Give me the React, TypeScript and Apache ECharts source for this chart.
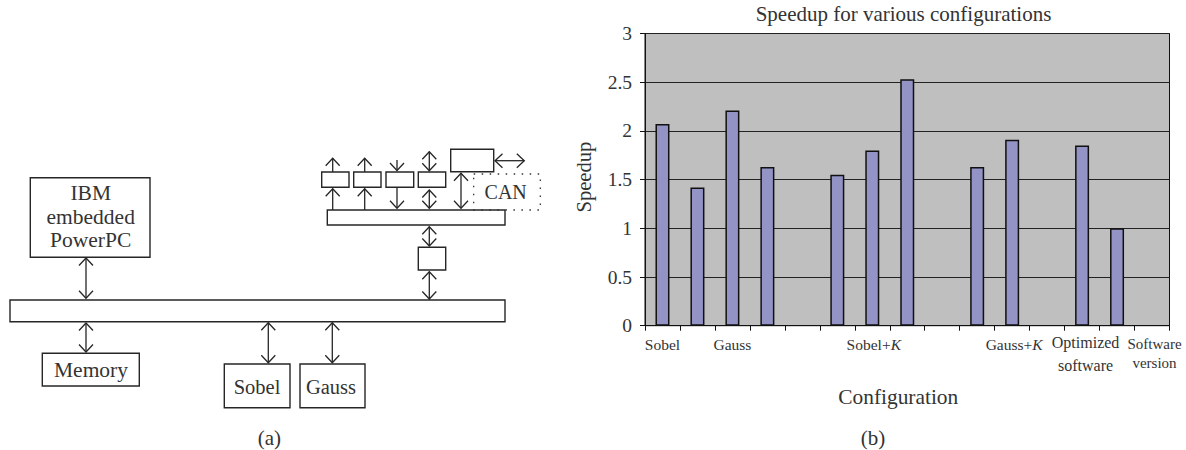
import React, { useEffect, useRef } from "react";
import * as echarts from "echarts";

const categories = ["Sobel", "", "Gauss", "", "", "", "Sobel+K", "", "", "", "Gauss+K", "", "Optimized\nsoftware", "", "Software\nversion"];
const speedup: (number | null)[] = [2.07, 1.42, 2.21, 1.63, null, 1.55, 1.8, 2.53, null, 1.63, 1.91, null, 1.85, 1.0, null];
const yTicks = { min: 0, max: 3, interval: 0.5 };

const FONT = "'Liberation Serif', serif";
const INK = "#262626";
const TEXT = "#333";

// Block diagram (a): [x, y, w, h]
const solidBoxes = [
  [30.3, 177.7, 119.7, 79.6], [10, 300, 495, 21.7], [42.3, 353.3, 97, 32.7], [224.3, 364, 65.7, 43.7], [300, 364, 65, 43.7],
  [327.3, 210, 177.7, 15], [418.3, 247.3, 27.4, 22.7], [321.7, 172, 27.3, 15.3], [353.7, 172, 27.3, 15.3], [386, 172, 27.7, 15.3],
  [418.3, 172, 27.4, 15.3], [450.7, 149.3, 43, 22.4],
];
// Arrows: [x1, y1, x2, y2, headAtStart, headAtEnd]
const arrows: [number, number, number, number, boolean, boolean][] = [
  [86, 258, 86, 298.3, true, true], [86, 323, 86, 352, true, true], [268.3, 322.7, 268.3, 362.7, true, true],
  [332.3, 322.7, 332.3, 362.7, true, true], [429.3, 271.7, 429.3, 299, true, true], [429.3, 226.7, 429.3, 246, true, true],
  [332.7, 158.3, 332.7, 172, true, false], [364.7, 158.3, 364.7, 172, true, false], [397, 160, 397, 170.5, false, true],
  [429.3, 151.7, 429.3, 170.7, true, true], [332.7, 188.7, 332.7, 210, true, false], [364.7, 188.7, 364.7, 210, true, false],
  [397, 187.3, 397, 208.3, false, true], [429.3, 190, 429.3, 208.3, true, true], [461, 173.3, 461, 208.3, true, true],
  [495, 160.7, 524.3, 160.7, true, true],
];
const diagramTexts: [string, number, number, number][] = [
  ["IBM", 90.7, 193, 21.5], ["embedded", 90.7, 216.5, 21.5], ["PowerPC", 90.7, 240, 21.5], ["Memory", 91, 370, 21.5],
  ["Sobel", 257, 386.5, 20.5], ["Gauss", 331, 386.5, 20.5], ["CAN", 505.7, 192.3, 20], ["(a)", 269.3, 438, 21], ["(b)", 873, 438, 21],
];

function head(x: number, y: number, dx: number, dy: number) {
  // dx, dy: unit vector in the direction the arrow points
  const len = 7.5, half = 7;
  return {
    type: "polyline",
    shape: { points: [[x - dx * len - dy * half, y - dy * len - dx * half], [x, y], [x - dx * len + dy * half, y - dy * len + dx * half]] },
    style: { stroke: INK, lineWidth: 1.3, fill: "none" },
    silent: true,
  };
}

function diagramElements() {
  const els: any[] = [];
  solidBoxes.forEach(([x, y, width, height]) =>
    els.push({ type: "rect", shape: { x, y, width, height }, style: { fill: "#fff", stroke: INK, lineWidth: 1.4 } }));
  els.push({ type: "rect", shape: { x: 473.7, y: 174, width: 66.6, height: 36 }, style: { fill: "none", stroke: "#333", lineWidth: 1.3, lineDash: [1.5, 6.5] } });
  arrows.forEach(([x1, y1, x2, y2, a, b]) => {
    const l = Math.hypot(x2 - x1, y2 - y1), dx = (x2 - x1) / l, dy = (y2 - y1) / l;
    els.push({ type: "line", shape: { x1, y1, x2, y2 }, style: { stroke: INK, lineWidth: 1.3 } });
    if (a) els.push(head(x1, y1, -dx, -dy));
    if (b) els.push(head(x2, y2, dx, dy));
  });
  diagramTexts.forEach(([text, x, y, fontSize]) =>
    els.push({ type: "text", x, y, style: { text, fontFamily: FONT, fontSize, fill: TEXT, align: "center", verticalAlign: "middle" } }));
  return els;
}

function xLabel(value: string) {
  if (value === "Sobel+K") return "{s|Sobel+}{k|K}";
  if (value === "Gauss+K") return "{g|Gauss+}{k|K}";
  if (value.startsWith("Optimized")) return value.split("\n").map((t, i) => `{o${i}|${t}}`).join("\n");
  if (value.startsWith("Software")) return value.split("\n").map((t, i) => `{v${i}|${t}}`).join("\n");
  return value;
}

const base = { fontFamily: FONT, fontSize: 15.5, color: TEXT };

export default function App() {
  const ref = useRef<HTMLDivElement>(null);
  useEffect(() => {
    document.body.style.margin = "0";
    const chart = echarts.init(ref.current!, undefined, { renderer: "svg" });
    chart.setOption({
      animation: false,
      backgroundColor: "#fff",
      textStyle: { fontFamily: FONT },
      title: {
        text: "Speedup for various configurations", left: 903.5, top: 3, padding: 0, textAlign: "center",
        textStyle: { fontFamily: FONT, fontSize: 21, fontWeight: "normal", color: TEXT },
      },
      grid: { left: 645, right: 16.5, top: 33.5, bottom: 124.3, show: true, backgroundColor: "#bfbfbf", borderColor: "#111", borderWidth: 1 },
      xAxis: {
        type: "category", data: categories, name: "Configuration", nameLocation: "middle", nameGap: 60,
        nameTextStyle: { fontFamily: FONT, fontSize: 21.4, color: TEXT, padding: [0, 18, 0, 0] },
        axisTick: { show: true, length: 5, lineStyle: { color: "#111" }, alignWithLabel: false },
        axisLine: { lineStyle: { color: "#111" } },
        axisLabel: {
          interval: 0, margin: 9.5, ...base, lineHeight: 19, formatter: xLabel,
          rich: {
            k: { ...base, fontStyle: "italic", lineHeight: 19 },
            s: { ...base, lineHeight: 19, padding: [0, 0, 0, 3] },
            g: { ...base, lineHeight: 19, padding: [0, 0, 0, 4] },
            o0: { ...base, fontSize: 16, lineHeight: 15, padding: [0, 0, 0, 7] },
            o1: { ...base, fontSize: 16, lineHeight: 31, padding: [0, 0, 0, 7] },
            v0: { ...base, fontSize: 15, lineHeight: 17, padding: [0, 0, 0, 5] },
            v1: { ...base, fontSize: 15, lineHeight: 21, padding: [0, 0, 0, 5] },
          },
        },
      },
      yAxis: {
        type: "value", ...yTicks, name: "Speedup", nameLocation: "middle", nameGap: 51,
        nameTextStyle: { fontFamily: FONT, fontSize: 20.6, color: TEXT, padding: [0, 0, 0, 5] },
        axisLine: { show: true, lineStyle: { color: "#111" } },
        axisTick: { show: true, length: 5, lineStyle: { color: "#111" } },
        axisLabel: { margin: 13, fontFamily: FONT, fontSize: 19.5, color: TEXT },
        splitLine: { show: true, lineStyle: { color: "#222", width: 1 } },
      },
      series: [{
        type: "bar", data: speedup, barWidth: 14,
        itemStyle: { color: "#9393c6", borderColor: "#111", borderWidth: 1.5 },
      }],
      graphic: { elements: diagramElements() },
    });
    return () => chart.dispose();
  }, []);
  return <div ref={ref} style={{ position: "absolute", left: 0, top: 0, width: 1186, height: 450 }} />;
}
